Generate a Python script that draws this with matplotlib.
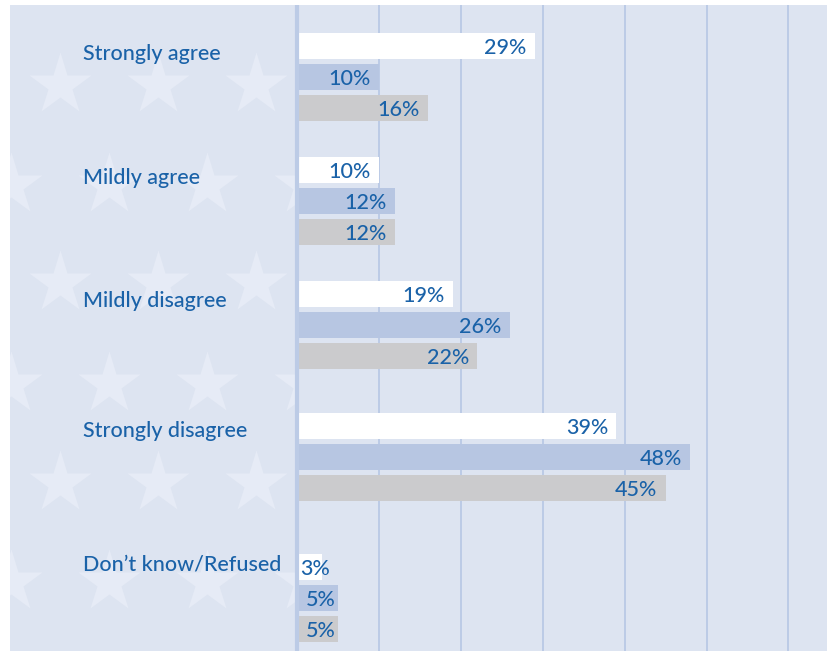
import matplotlib.pyplot as plt
import numpy as np

# data
categories = ["Strongly agree", "Mildly agree", "Mildly disagree",
              "Strongly disagree", "Don\u2019t know/Refused"]
series_white = [29, 10, 19, 39, 3]
series_blue = [10, 12, 26, 48, 5]
series_gray = [16, 12, 22, 45, 5]
grid_ticks = [10, 20, 30, 40, 50, 60]

# layout (figure pixels, y from top)
W, H = 827, 651
panel_left, panel_top = 10, 5
zero_px = 297
px_per_pct = 8.19
group_y = [77, 201, 325, 457, 598]
bar_pitch = 31
bar_h = 26

BG = "#dde4f1"
STAR = "#e6ebf6"
BLUE_BAR = "#b7c6e2"
GRAY_BAR = "#cbcbcd"
GRID = "#bccbe6"
TXT = "#1a62a8"
FONT = "Lato"
WEIGHT = "medium"
FS = 15.5

fig = plt.figure(figsize=(W / 100, H / 100), dpi=100)
fig.patch.set_facecolor("white")

# background panel with stars
ax_bg = fig.add_axes([panel_left / W, 0, 1 - panel_left / W, 1 - panel_top / H])
ax_bg.set_xlim(panel_left, W)
ax_bg.set_ylim(H, panel_top)
ax_bg.set_facecolor(BG)
ax_bg.axis("off")
ax_bg.add_patch(plt.Rectangle((panel_left, panel_top), W - panel_left, H - panel_top,
                              color=BG, zorder=0))
clip = plt.Rectangle((panel_left, panel_top), 295 - panel_left, H - panel_top,
                     transform=ax_bg.transData, visible=False)
ax_bg.add_patch(clip)
star_rows = [85, 185, 283, 384, 483, 582]
for i, sy in enumerate(star_rows):
    xs = [60, 158, 256] if i % 2 == 0 else [11, 109, 207, 305]
    pts, = ax_bg.plot(xs, [sy] * len(xs), ls="none", marker="*", ms=47,
                      color=STAR, mec="none", zorder=1)
    pts.set_clip_path(clip)

# main axes
ax = fig.add_axes([panel_left / W, 0, 1 - panel_left / W, 1 - panel_top / H])
ax.patch.set_alpha(0)
ax.set_xlim(-(zero_px - panel_left) / px_per_pct, (W - zero_px) / px_per_pct)
ax.set_ylim(H, panel_top)
ax.axis("off")

for t in grid_ticks:
    ax.axvline(t, color=GRID, lw=1.4, zorder=1)
ax.axvline(0, color=GRID, lw=3, zorder=4)

colors = ["white", BLUE_BAR, GRAY_BAR]
for k, (vals, col) in enumerate(zip([series_white, series_blue, series_gray], colors)):
    ys = [g + (k - 1) * bar_pitch for g in group_y]
    ax.barh(ys, vals, height=bar_h, color=col, zorder=2)
    for y, v in zip(ys, vals):
        if v < 4:
            ax.annotate(f"{v}%", (0, y + 2), xytext=(2.5, 0), textcoords="offset points",
                        ha="left", va="center", color=TXT, fontsize=FS,
                        family=FONT, weight=WEIGHT, zorder=5)
        else:
            off = -6 if v >= 10 else -1.5
            ax.annotate(f"{v}%", (v, y + 2), xytext=(off, 0), textcoords="offset points",
                        ha="right", va="center", color=TXT, fontsize=FS,
                        family=FONT, weight=WEIGHT, zorder=5)

label_dy = [-23, -23, -24, -26, -33]
for cat, g, dy in zip(categories, group_y, label_dy):
    ax.text(-(zero_px - 83) / px_per_pct, g + dy, cat, ha="left", va="center",
            color=TXT, fontsize=FS, family=FONT, weight=WEIGHT, zorder=5)

fig.savefig("out.png", dpi=100, facecolor=fig.get_facecolor())
